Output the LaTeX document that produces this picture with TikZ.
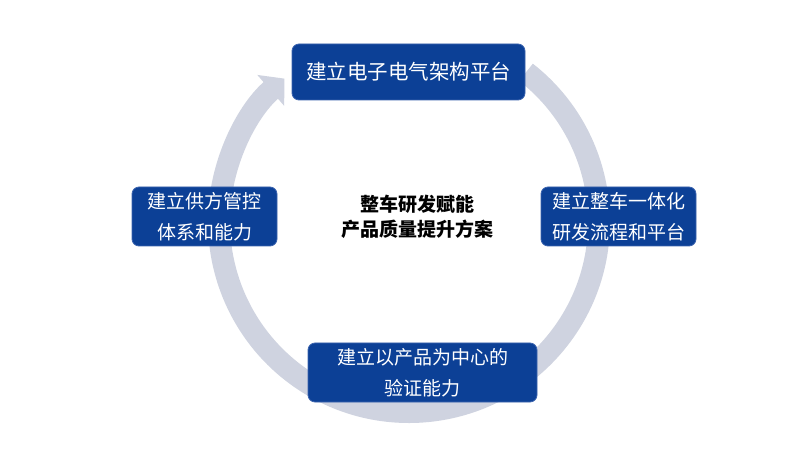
\documentclass[tikz,border=0pt]{standalone}
\usepackage{fontspec}
\setmainfont{Noto Sans CJK SC}
\usetikzlibrary{arrows.meta}
\definecolor{ringc}{RGB}{207,211,224}
\definecolor{boxc}{RGB}{12,64,150}
\definecolor{boxedge}{RGB}{60,100,175}
\tikzset{
  stagebox/.style={draw=boxedge, line width=0.8pt, fill=boxc, rounded corners=7pt,
    text=white, align=center, inner sep=0pt,
    font=\fontsize{19}{31}\selectfont},
  ringarrow/.style={draw=ringc, line width=22pt,
    -{Triangle[length=18pt, width=40pt]}}
}
\begin{document}
\begin{tikzpicture}[x=1pt, y=-1pt]
\useasboundingbox (0,0) rectangle (806,454);
\fill[white] (0,0) rectangle (806,454);
% ring
\coordinate (c) at (409,222);
\draw[ringarrow] ([shift={(52:190pt)}]c) arc[start angle=52, end angle=-229, radius=190pt];
% boxes
\node[stagebox, minimum width=233pt, minimum height=56pt, font=\fontsize{20.5}{31}\selectfont] (top) at (408.5,72) {建立电子电气架构平台};
\node[stagebox, minimum width=145pt, minimum height=59pt] (left) at (204.5,216.5) {建立供方管控\\体系和能力};
\node[stagebox, minimum width=155pt, minimum height=59pt] (right) at (618.5,216.5) {建立整车一体化\\研发流程和平台};
\node[stagebox, minimum width=229pt, minimum height=59pt] (bottom) at (422.5,372.5) {建立以产品为中心的\\验证能力};
\node[align=center, font=\fontsize{19}{25}\selectfont\bfseries] (center) at (417,216.5) {整车研发赋能\\产品质量提升方案};
\end{tikzpicture}
\end{document}
